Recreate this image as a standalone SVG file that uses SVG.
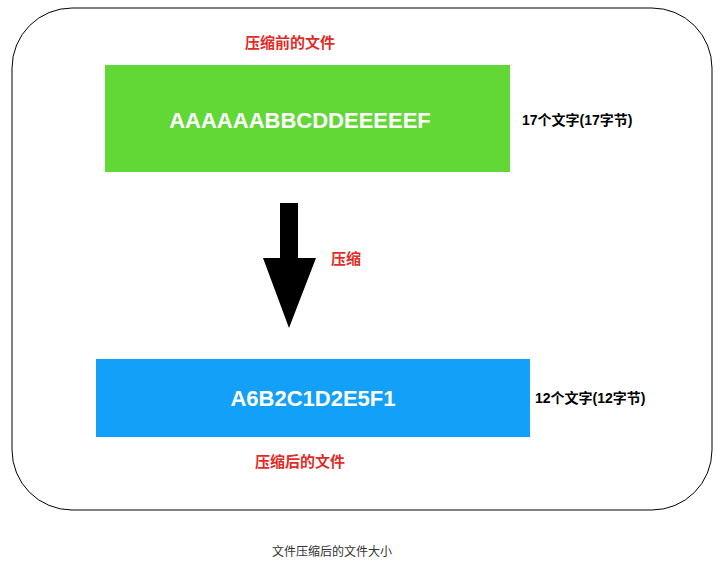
<svg xmlns="http://www.w3.org/2000/svg" width="726" height="568" viewBox="0 0 726 568">
<style>
.red{fill:#e22b26;font:bold 15px "Liberation Sans","Noto Sans CJK SC",sans-serif;text-anchor:middle}
.big{fill:#fff;font:bold 22px "Liberation Sans","Noto Sans CJK SC",sans-serif;text-anchor:middle}
.lbl{fill:#000;font:bold 14px "Liberation Sans","Noto Sans CJK SC",sans-serif}
.cap{fill:#333;font:12px "Liberation Sans","Noto Sans CJK SC",sans-serif;text-anchor:middle}
</style>
<rect width="726" height="568" fill="#fff"/>
<rect x="12" y="8" width="700" height="502" rx="60" fill="none" stroke="#000" stroke-width="1"/>
<g id="before">
<text class="red" x="290" y="48">压缩前的文件</text>
<rect x="105" y="65" width="405" height="107" fill="#61d836"/>
<text class="big" x="300" y="128">AAAAAABBCDDEEEEEF</text>
<text class="lbl" x="522" y="125">17个文字(17字节)</text>
</g>
<g id="connectors">
<path d="M280 203H298V258H316L289 328L263 258H280Z" fill="#000"/>
<text class="red" x="346" y="264">压缩</text>
</g>
<g id="after">
<rect x="96" y="359" width="434" height="78" fill="#12a0f9"/>
<text class="big" x="313" y="406">A6B2C1D2E5F1</text>
<text class="lbl" x="535" y="403">12个文字(12字节)</text>
<text class="red" x="300" y="467">压缩后的文件</text>
</g>
<text class="cap" x="332" y="556">文件压缩后的文件大小</text>
</svg>
